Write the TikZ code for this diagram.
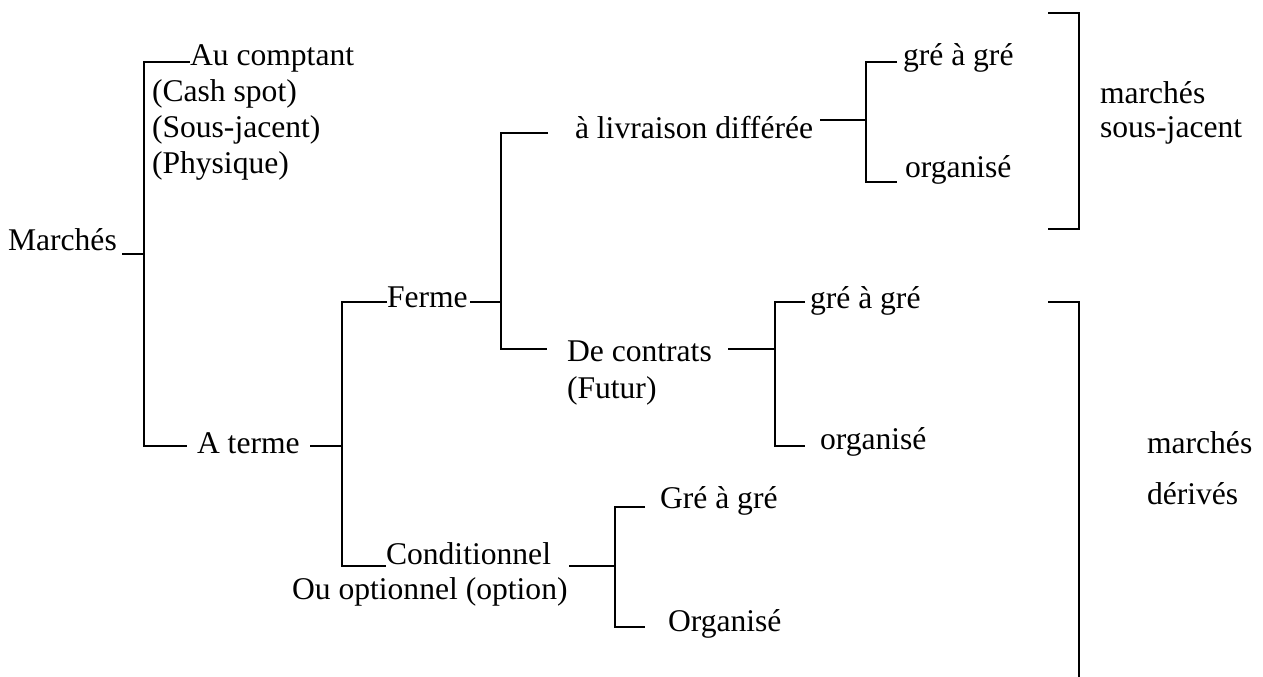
\documentclass[tikz,border=0pt]{standalone}
\usepackage{fontspec}
\setmainfont{Liberation Serif}
\begin{document}
\begin{tikzpicture}[x=0.75pt,y=-0.75pt,
  lbl/.style={anchor=base west, inner sep=0pt, outer sep=0pt,
              font=\fontsize{23.7pt}{27pt}\selectfont},
  link/.style={draw, line width=1.5pt, line join=miter}]
\useasboundingbox (0,0) rectangle (1263,677);

% ---------- labels ----------
\node[lbl] (marches)  at (8,251)   {Marchés};
\node[lbl] (comptant) at (190,66)  {Au comptant};
\node[lbl] (cash)     at (152,102) {(Cash spot)};
\node[lbl] (sousjac)  at (152,138) {(Sous-jacent)};
\node[lbl] (physique) at (152,174) {(Physique)};
\node[lbl] (aterme)   at (197,453) {A terme};
\node[lbl] (ferme)    at (387,307) {Ferme};
\node[lbl] (condit)   at (386,564) {Conditionnel};
\node[lbl] (ouopt)    at (292,599) {Ou optionnel (option)};
\node[lbl] (livraison) at (575,139) {à livraison différée};
\node[lbl] (contrats) at (567,361) {De contrats};
\node[lbl] (futur)    at (567,398) {(Futur)};
\node[lbl] (gre1)     at (903,66)  {gré à gré};
\node[lbl] (org1)     at (905,178) {organisé};
\node[lbl] (gre2)     at (810,308) {gré à gré};
\node[lbl] (org2)     at (820,449) {organisé};
\node[lbl] (gre3)     at (660,508) {Gré à gré};
\node[lbl] (org3)     at (668,631) {Organisé};
\node[lbl] (msj1)     at (1100,104) {marchés};
\node[lbl] (msj2)     at (1100,138) {sous-jacent};
\node[lbl] (md1)      at (1147,453) {marchés};
\node[lbl] (md2)      at (1147,504) {dérivés};

% ---------- branch points ----------
% Marchés
\coordinate (m-in)   at (122,254);
\coordinate (m-mid)  at (144,254);
\coordinate (m-top)  at (144,62);
\coordinate (m-bot)  at (144,446);
\coordinate (m-up)   at (190,62);
\coordinate (m-down) at (187,446);
% A terme
\coordinate (a-in)   at (310,446);
\coordinate (a-mid)  at (342,446);
\coordinate (a-top)  at (342,302);
\coordinate (a-bot)  at (342,566);
\coordinate (a-up)   at (387,302);
\coordinate (a-down) at (386,566);
% Ferme
\coordinate (f-in)   at (470,302);
\coordinate (f-mid)  at (501,302);
\coordinate (f-top)  at (501,133);
\coordinate (f-bot)  at (501,349);
\coordinate (f-up)   at (548,133);
\coordinate (f-down) at (547,349);
% à livraison différée
\coordinate (l-in)   at (820,120);
\coordinate (l-mid)  at (866,120);
\coordinate (l-top)  at (866,62);
\coordinate (l-bot)  at (866,182);
\coordinate (l-up)   at (897,62);
\coordinate (l-down) at (897,182);
% De contrats
\coordinate (c-in)   at (728,349);
\coordinate (c-mid)  at (775,349);
\coordinate (c-top)  at (775,302);
\coordinate (c-bot)  at (775,446);
\coordinate (c-up)   at (805,302);
\coordinate (c-down) at (805,446);
% Conditionnel
\coordinate (o-in)   at (569,566);
\coordinate (o-mid)  at (615,566);
\coordinate (o-top)  at (615,507);
\coordinate (o-bot)  at (615,627);
\coordinate (o-up)   at (645,507);
\coordinate (o-down) at (645,627);
% brackets
\coordinate (b1-a) at (1048,13);
\coordinate (b1-b) at (1079,13);
\coordinate (b1-c) at (1079,229);
\coordinate (b1-d) at (1048,229);
\coordinate (b2-a) at (1048,302);
\coordinate (b2-b) at (1079,302);
\coordinate (b2-c) at (1079,677);

% ---------- connectors ----------
\foreach \p in {m,a,f,l,c,o}{
  \draw[link] (\p-in) -- (\p-mid);
  \draw[link] (\p-up) -- (\p-top) -- (\p-bot) -- (\p-down);
}
\draw[link] (b1-a) -- (b1-b) -- (b1-c) -- (b1-d);
\draw[link] (b2-a) -- (b2-b) -- (b2-c);
\end{tikzpicture}
\end{document}
